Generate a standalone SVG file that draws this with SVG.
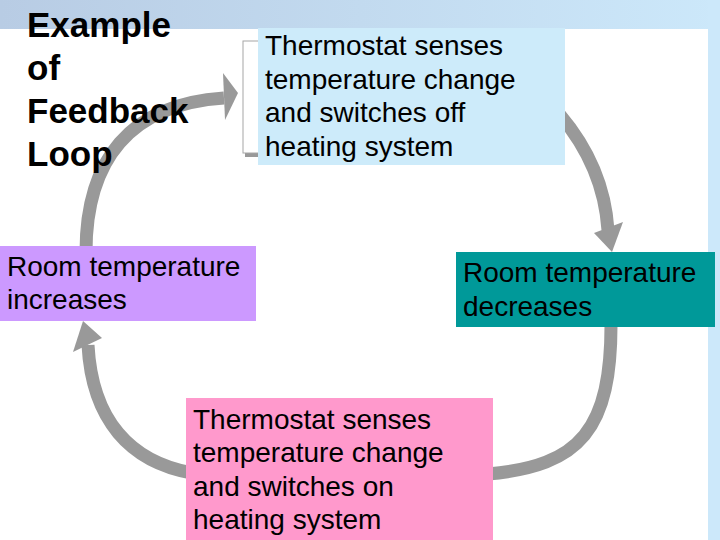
<svg xmlns="http://www.w3.org/2000/svg" width="720" height="540" viewBox="0 0 720 540">
  <defs>
    <linearGradient id="band" x1="0" y1="0" x2="1" y2="0">
      <stop offset="0" stop-color="#B8CCE4"/>
      <stop offset="1" stop-color="#CCE8FA"/>
    </linearGradient>
    <style>
      .txt { font-family: "Liberation Sans", Arial, sans-serif; font-size: 28px; fill: #000; }
      .title { font-family: "Liberation Sans", Arial, sans-serif; font-size: 35px; font-weight: bold; fill: #000; }
      .shaft { fill: none; stroke: #999999; stroke-width: 13; }
      .head { fill: #999999; }
    </style>
  </defs>

  <!-- background -->
  <rect x="0" y="0" width="720" height="540" fill="#FFFFFF"/>
  <rect x="0" y="0" width="720" height="29" fill="url(#band)"/>
  <rect x="708" y="0" width="12" height="540" fill="#CCE8FA"/>

  <!-- frame behind top box -->
  <g id="frame">
    <rect x="245" y="45" width="80" height="112" fill="#999999"/>
    <rect x="243" y="41" width="80" height="112" fill="#FFFFFF" stroke="#A6A6A6" stroke-width="1"/>
  </g>

  <!-- connectors -->
  <g id="connectors">
    <path class="shaft" d="M 86 252 C 86 160, 130 104, 224 98"/>
    <polygon class="head" points="223,73 238,93 225,120"/>
    <path class="shaft" d="M 560 115 C 588 148, 605 185, 608 230"/>
    <polygon class="head" points="594,233 612,252 623,222"/>
    <path class="shaft" d="M 611 320 C 612 430, 580 466, 488 474"/>
    <path class="shaft" d="M 192 473 C 130 462, 92 420, 88 345"/>
    <polygon class="head" points="73,352 83,321 102,338"/>
  </g>

  <!-- title -->
  <g id="title">
    <text class="title" x="27" y="37">Example</text>
    <text class="title" x="27" y="80">of</text>
    <text class="title" x="27" y="123">Feedback</text>
    <text class="title" x="27" y="166">Loop</text>
  </g>

  <g id="node-off">
    <rect x="258" y="28" width="307" height="137" fill="#CDEBFA"/>
    <text class="txt" x="265" y="55">Thermostat senses</text>
    <text class="txt" x="265" y="88.5">temperature change</text>
    <text class="txt" x="265" y="122">and switches off</text>
    <text class="txt" x="265" y="155.5">heating system</text>
  </g>

  <g id="node-increases">
    <rect x="0" y="246" width="256" height="75" fill="#CC99FF"/>
    <text class="txt" x="7" y="275.5">Room temperature</text>
    <text class="txt" x="7" y="309">increases</text>
  </g>

  <g id="node-decreases">
    <rect x="456" y="252" width="259" height="75" fill="#009999"/>
    <text class="txt" x="463" y="282">Room temperature</text>
    <text class="txt" x="463" y="315.5">decreases</text>
  </g>

  <g id="node-on">
    <rect x="186" y="398" width="307" height="142" fill="#FF99CC"/>
    <text class="txt" x="193" y="428.5">Thermostat senses</text>
    <text class="txt" x="193" y="462">temperature change</text>
    <text class="txt" x="193" y="495.5">and switches on</text>
    <text class="txt" x="193" y="529">heating system</text>
  </g>
</svg>
